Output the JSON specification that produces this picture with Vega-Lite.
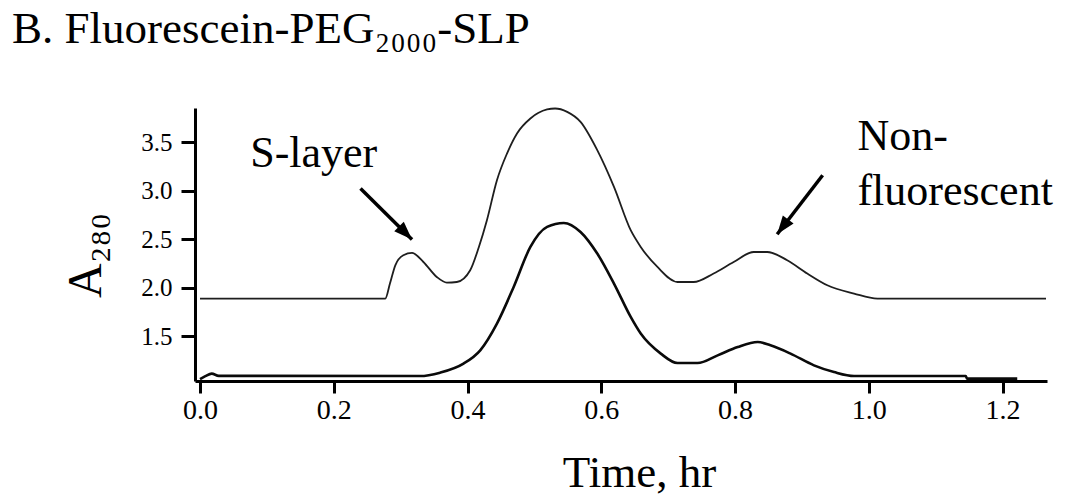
{
  "$schema": "https://vega.github.io/schema/vega-lite/v6.json",
  "width": 852,
  "height": 273,
  "autosize": "none",
  "padding": {"left": 195, "top": 108, "right": 20, "bottom": 114},
  "background": "white",
  "title": {
    "text": "B. Fluorescein-PEG₂₀₀₀-SLP",
    "anchor": "start",
    "frame": "group",
    "dx": -183,
    "font": "Liberation Serif",
    "fontSize": 45,
    "fontWeight": "normal",
    "color": "black",
    "baseline": "alphabetic",
    "offset": 17
  },
  "config": {
    "view": {"stroke": null},
    "axis": {
      "grid": false,
      "domainColor": "black",
      "domainWidth": 3,
      "tickColor": "black",
      "tickWidth": 3,
      "labelFont": "Liberation Serif",
      "labelColor": "black",
      "titleFont": "Liberation Serif",
      "titleColor": "black",
      "titleFontWeight": "normal"
    }
  },
  "datasets": {
    "curves": [
      {"trace": "upper", "x": 0.0, "y": 1.888},
      {"trace": "upper", "x": 0.277, "y": 1.888},
      {"trace": "upper", "x": 0.284, "y": 2.043},
      {"trace": "upper", "x": 0.292, "y": 2.231},
      {"trace": "upper", "x": 0.304, "y": 2.334},
      {"trace": "upper", "x": 0.317, "y": 2.358},
      {"trace": "upper", "x": 0.334, "y": 2.265},
      {"trace": "upper", "x": 0.354, "y": 2.111},
      {"trace": "upper", "x": 0.369, "y": 2.053},
      {"trace": "upper", "x": 0.384, "y": 2.059},
      {"trace": "upper", "x": 0.404, "y": 2.18},
      {"trace": "upper", "x": 0.417, "y": 2.42},
      {"trace": "upper", "x": 0.429, "y": 2.695},
      {"trace": "upper", "x": 0.444, "y": 3.107},
      {"trace": "upper", "x": 0.459, "y": 3.381},
      {"trace": "upper", "x": 0.474, "y": 3.588},
      {"trace": "upper", "x": 0.494, "y": 3.742},
      {"trace": "upper", "x": 0.519, "y": 3.835},
      {"trace": "upper", "x": 0.531, "y": 3.845},
      {"trace": "upper", "x": 0.549, "y": 3.81},
      {"trace": "upper", "x": 0.569, "y": 3.707},
      {"trace": "upper", "x": 0.594, "y": 3.416},
      {"trace": "upper", "x": 0.619, "y": 3.038},
      {"trace": "upper", "x": 0.644, "y": 2.592},
      {"trace": "upper", "x": 0.659, "y": 2.42},
      {"trace": "upper", "x": 0.684, "y": 2.214},
      {"trace": "upper", "x": 0.714, "y": 2.059},
      {"trace": "upper", "x": 0.738, "y": 2.059},
      {"trace": "upper", "x": 0.768, "y": 2.146},
      {"trace": "upper", "x": 0.798, "y": 2.265},
      {"trace": "upper", "x": 0.828, "y": 2.368},
      {"trace": "upper", "x": 0.848, "y": 2.368},
      {"trace": "upper", "x": 0.878, "y": 2.283},
      {"trace": "upper", "x": 0.908, "y": 2.146},
      {"trace": "upper", "x": 0.938, "y": 2.025},
      {"trace": "upper", "x": 0.978, "y": 1.94},
      {"trace": "upper", "x": 1.013, "y": 1.888},
      {"trace": "upper", "x": 1.265, "y": 1.888},
      {"trace": "lower", "x": 0.0, "y": 1.06},
      {"trace": "lower", "x": 0.008, "y": 1.09},
      {"trace": "lower", "x": 0.0175, "y": 1.116},
      {"trace": "lower", "x": 0.028, "y": 1.093},
      {"trace": "lower", "x": 0.329, "y": 1.091},
      {"trace": "lower", "x": 0.359, "y": 1.126},
      {"trace": "lower", "x": 0.394, "y": 1.219},
      {"trace": "lower", "x": 0.419, "y": 1.356},
      {"trace": "lower", "x": 0.444, "y": 1.631},
      {"trace": "lower", "x": 0.469, "y": 2.008},
      {"trace": "lower", "x": 0.494, "y": 2.42},
      {"trace": "lower", "x": 0.519, "y": 2.626},
      {"trace": "lower", "x": 0.544, "y": 2.667},
      {"trace": "lower", "x": 0.569, "y": 2.574},
      {"trace": "lower", "x": 0.594, "y": 2.352},
      {"trace": "lower", "x": 0.619, "y": 2.043},
      {"trace": "lower", "x": 0.644, "y": 1.699},
      {"trace": "lower", "x": 0.659, "y": 1.528},
      {"trace": "lower", "x": 0.689, "y": 1.322},
      {"trace": "lower", "x": 0.714, "y": 1.225},
      {"trace": "lower", "x": 0.744, "y": 1.225},
      {"trace": "lower", "x": 0.774, "y": 1.304},
      {"trace": "lower", "x": 0.804, "y": 1.39},
      {"trace": "lower", "x": 0.834, "y": 1.441},
      {"trace": "lower", "x": 0.853, "y": 1.407},
      {"trace": "lower", "x": 0.883, "y": 1.322},
      {"trace": "lower", "x": 0.918, "y": 1.201},
      {"trace": "lower", "x": 0.948, "y": 1.132},
      {"trace": "lower", "x": 0.978, "y": 1.091},
      {"trace": "lower", "x": 1.145, "y": 1.091},
      {"trace": "lower", "x": 1.147, "y": 1.064},
      {"trace": "lower", "x": 1.222, "y": 1.064}
    ],
    "arrows": [
      {"x": 0.24, "y": 3.021, "x2": 0.317, "y2": 2.496, "angle": 135},
      {"x": 0.931, "y": 3.158, "x2": 0.863, "y2": 2.551, "angle": 217}
    ],
    "labels": [
      {"x": 0.075, "y": 3.24, "label": "S-layer"},
      {"x": 0.983, "y": 3.416, "label": "Non-\nfluorescent"}
    ]
  },
  "encoding": {
    "x": {
      "field": "x",
      "type": "quantitative",
      "scale": {"domain": [-0.0075, 1.2665], "nice": false, "zero": false},
      "axis": {
        "values": [0, 0.2, 0.4, 0.6, 0.8, 1.0, 1.2],
        "format": ".1f",
        "tickSize": 12,
        "labelFontSize": 28,
        "labelPadding": 3,
        "title": "Time, hr",
        "titleFontSize": 45,
        "titleX": 444,
        "titleY": 105,
        "titleBaseline": "alphabetic"
      }
    },
    "y": {
      "field": "y",
      "type": "quantitative",
      "scale": {"domain": [1.04, 3.85], "nice": false, "zero": false},
      "axis": {
        "values": [1.5, 2.0, 2.5, 3.0, 3.5],
        "format": ".1f",
        "tickSize": 14,
        "labelFontSize": 25,
        "labelPadding": 9,
        "title": "A₂₈₀",
        "titleFontSize": 48,
        "titleAngle": 270,
        "titleX": -95,
        "titleY": 147,
        "titleAlign": "center",
        "titleBaseline": "alphabetic"
      }
    }
  },
  "layer": [
    {
      "data": {"name": "curves"},
      "transform": [{"filter": "datum.trace === 'upper'"}],
      "mark": {"type": "line", "color": "#1e1e1e", "strokeWidth": 1.8, "interpolate": "monotone"}
    },
    {
      "data": {"name": "curves"},
      "transform": [{"filter": "datum.trace === 'lower'"}],
      "mark": {"type": "line", "color": "#0a0a0a", "strokeWidth": 2.6, "interpolate": "monotone"}
    },
    {
      "data": {"name": "arrows"},
      "mark": {"type": "rule", "color": "black", "strokeWidth": 3.5},
      "encoding": {
        "x2": {"field": "x2"},
        "y2": {"field": "y2"}
      }
    },
    {
      "data": {"name": "arrows"},
      "mark": {"type": "point", "shape": "M0,0L1.1,3L-1.1,3Z", "filled": true, "color": "black", "size": 150, "opacity": 1},
      "encoding": {
        "x": {"field": "x2", "type": "quantitative"},
        "y": {"field": "y2", "type": "quantitative"},
        "angle": {"field": "angle", "type": "quantitative", "scale": null}
      }
    },
    {
      "data": {"name": "labels"},
      "mark": {"type": "text", "font": "Liberation Serif", "fontSize": 44, "align": "left", "baseline": "alphabetic", "lineHeight": 55, "lineBreak": "\n", "color": "black"},
      "encoding": {
        "text": {"field": "label", "type": "nominal"}
      }
    }
  ]
}
